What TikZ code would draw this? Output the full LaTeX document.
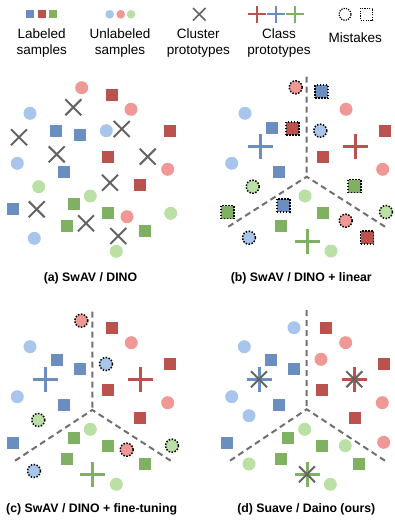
\documentclass[tikz,border=0pt]{standalone}
\usepackage{fontspec}
\setmainfont{Liberation Sans}
\definecolor{cR}{RGB}{186,82,78}
\definecolor{cB}{RGB}{106,142,192}
\definecolor{cG}{RGB}{128,176,98}
\definecolor{lR}{RGB}{240,152,150}
\definecolor{lB}{RGB}{168,198,236}
\definecolor{lG}{RGB}{186,224,166}
\definecolor{xg}{RGB}{100,100,100}
\definecolor{dg}{RGB}{112,112,112}
\tikzset{
  sq/.style={rectangle, minimum size=13pt, inner sep=0pt, fill=#1, draw=white, line width=0.5pt},
  ci/.style={circle, minimum size=13pt, inner sep=0pt, fill=#1},
  mis/.style={draw=black, line width=1.5pt, dash pattern=on 1.5pt off 1.5pt},
  ok/.style={},
  bound/.style={draw=dg, line width=2pt, dash pattern=on 6pt off 4pt},
  xmark/.pic={\draw[xg, line width=2pt] (-8,-8) -- (8,8) (-8,8) -- (8,-8);},
  plusmark/.pic={\draw[line width=3pt, pic actions] (-12.5,0) -- (12.5,0) (0,-12.5) -- (0,12.5);},
  lgx/.pic={\draw[xg, line width=1.6pt] (-6.3,-6.3) -- (6.3,6.3) (-6.3,6.3) -- (6.3,-6.3);},
  lgplus/.pic={\draw[line width=2pt, pic actions] (-9,0) -- (9,0) (0,-8.5) -- (0,8.5);},
  lgtext/.style={font=\fontsize{13.5}{16}\selectfont, align=center, anchor=base, inner sep=0pt},
  title/.style={font=\bfseries\fontsize{12.3}{14}\selectfont, anchor=base, inner sep=0pt},
}
\begin{document}
\begin{tikzpicture}[x=1pt, y=-1pt]
\useasboundingbox (0,0) rectangle (395,527);
% ---------- legend ----------
\foreach \x/\c [count=\i] in {30/cB, 41.8/cR, 53.2/cG}
  \node[sq=\c, minimum size=8pt, draw=none] (lgs\i) at (\x,14.3) {};
\foreach \x/\c [count=\i] in {109.7/lB, 120.7/lR, 131/lG}
  \node[ci=\c, minimum size=8.7pt] (lgc\i) at (\x,14.3) {};
\pic (lgX) at (199.3,14.3) {lgx};
\pic[draw=cR] (lgp1) at (257,14.3) {lgplus};
\pic[draw=cB] (lgp2) at (276,14.3) {lgplus};
\pic[draw=cG] (lgp3) at (295,14.3) {lgplus};
\node[circle, minimum size=12pt, inner sep=0pt, draw=black, line width=1.2pt, dash pattern=on 1.2pt off 1.2pt] (lgmc) at (345,14.3) {};
\node[rectangle, minimum size=12pt, inner sep=0pt, draw=black, line width=1.2pt, dash pattern=on 1.2pt off 1.2pt] (lgms) at (366.7,14.3) {};
\node[lgtext] (t1) at (41.7,54.3) {Labeled\\samples};
\node[lgtext] (t2) at (120,54.3) {Unlabeled\\samples};
\node[lgtext] (t3) at (198.3,54.3) {Cluster\\prototypes};
\node[lgtext] (t4) at (279,54.3) {Class\\prototypes};
\node[lgtext] (t5) at (355.3,42.3) {Mistakes};
% ---------- panel (a) ----------
\foreach \x/\y/\c [count=\i] in {112/94.3/cR, 169.7/130.7/cR, 107.7/156.7/cR, 140/184.7/cR,
  56/130.7/cB, 79.3/135/cB, 64/171.7/cB, 12.7/209/cB,
  73.3/204/cG, 107.7/212.7/cG, 66.3/225.7/cG, 144.3/230.7/cG}
  \node[sq=\c] (as\i) at (\x,\y) {};
\foreach \x/\y/\c [count=\i] in {81.7/87.7/lR, 131/109.3/lR, 167.7/169.3/lR, 127/216.7/lR,
  30/113.3/lB, 106.3/130.7/lB, 17.3/163.3/lB, 34.3/238.3/lB,
  38.7/186.7/lG, 90.3/196/lG, 170.7/213.3/lG, 116.3/251.3/lG}
  \node[ci=\c] (ac\i) at (\x,\y) {};
\foreach \x/\y [count=\i] in {73.3/107.3, 121.7/129, 19/137.3, 56.7/154.3, 147.7/156.7,
  110/182.7, 36.7/209.3, 86/223.3, 118.3/236}
  \pic (ax\i) at (\x,\y) {xmark};
\node[title] (ta) at (90.5,281.7) {(a) SwAV / DINO};
% ---------- panel (b) ----------
\coordinate (bO) at (306.7,176.7);
\coordinate (bU) at (306.7,76.7);
\coordinate (bL) at (228.3,226.7);
\coordinate (bR) at (385,226.7);
\draw[bound] (bU) -- (bO) (bL) -- (bO) -- (bR);
\foreach \x/\y/\c/\m [count=\i] in {321.7/91.7/cB/mis, 271.7/127.3/cB/ok, 292.7/128.3/cR/mis,
  384.3/130.7/cR/ok, 322.3/156.7/cR/ok, 279/171.7/cB/ok, 354.3/186/cG/mis, 283.3/205.3/cB/mis,
  227.3/212/cG/mis, 322.3/212.7/cG/ok, 281/225.7/cG/ok, 367/237.7/cR/mis}
  \node[sq=\c, \m] (bs\i) at (\x,\y) {};
\foreach \x/\y/\c/\m [count=\i] in {295.7/87.3/lR/mis, 346/109.3/lR/ok, 245/113.3/lB/ok,
  320.3/130.7/lB/mis, 231.7/163.3/lB/ok, 382.7/169.3/lR/ok, 252.7/186.7/lG/mis, 305/196/lG/ok,
  386/212/lG/mis, 345.7/220.7/lR/mis, 249/237.7/lB/mis, 331/251/lG/ok}
  \node[ci=\c, \m] (bc\i) at (\x,\y) {};
\pic[draw=cB] (bp1) at (260,146) {plusmark};
\pic[draw=cR] (bp2) at (355,146) {plusmark};
\pic[draw=cG] (bp3) at (307,241) {plusmark};
\node[title] (tb) at (301.3,281.7) {(b) SwAV / DINO + linear};
% ---------- panel (c) ----------
\coordinate (cO) at (92.3,410);
\coordinate (cU) at (92.3,311.7);
\coordinate (cL) at (15,460.7);
\coordinate (cR0) at (170.7,460.7);
\draw[bound] (cU) -- (cO) (cL) -- (cO) -- (cR0);
\foreach \x/\y/\c [count=\i] in {112/327.7/cR, 56.7/360/cB, 79.3/368.3/cB, 169.7/364/cR,
  107.7/390/cR, 64/405/cB, 140/417.7/cR, 73.3/437.3/cG, 12.7/442.3/cB, 107.7/445.7/cG,
  66.3/459/cG, 144.3/464/cG}
  \node[sq=\c] (cs\i) at (\x,\y) {};
\foreach \x/\y/\c/\m [count=\i] in {81.3/320.7/lR/mis, 131.3/342.7/lR/ok, 30/346.7/lB/ok,
  106/364/lB/mis, 17.3/396.7/lB/ok, 167.7/402.7/lR/ok, 38.3/420/lG/mis, 90.3/429.3/lG/ok,
  126.7/449.7/lR/mis, 172/445.7/lG/mis, 34/471/lB/mis, 116.3/484.3/lG/ok}
  \node[ci=\c, \m] (cc\i) at (\x,\y) {};
\pic[draw=cB] (cp1) at (45,379.3) {plusmark};
\pic[draw=cR] (cp2) at (140,379.3) {plusmark};
\pic[draw=cG] (cp3) at (92.7,474.3) {plusmark};
\node[title] (tc) at (91.7,512.7) {(c) SwAV / DINO + fine-tuning};
% ---------- panel (d) ----------
\coordinate (dO) at (306.7,409.3);
\coordinate (dU) at (306.7,310);
\coordinate (dL) at (230,460.7);
\coordinate (dR) at (385,460.7);
\draw[bound] (dU) -- (dO) (dL) -- (dO) -- (dR);
\foreach \x/\y/\c [count=\i] in {326/327.3/cR, 271/360/cB, 293.7/368.3/cB, 384/364/cR,
  322/390/cR, 278.3/405/cB, 354.3/417.7/cR, 287.7/437.3/cG, 227/442.3/cB, 321.7/445.7/cG,
  280.3/459/cG, 358.3/464/cG}
  \node[sq=\c] (ds\i) at (\x,\y) {};
\foreach \x/\y/\c [count=\i] in {294/327.7/lB, 244.3/346.7/lB, 345.7/342.7/lR, 321/359.3/lR,
  231.7/396.7/lB, 382.3/402.7/lR, 249/415.7/lB, 304.7/429.3/lG, 345.3/445.7/lG, 383.7/442.3/lR,
  249/464/lG, 330.3/484.3/lG}
  \node[ci=\c] (dc\i) at (\x,\y) {};
\foreach \x/\y/\c [count=\i] in {259/379.3/cB, 354.3/379.3/cR, 307/474.3/cG} {
  \pic[draw=\c] (dp\i) at (\x,\y) {plusmark};
  \pic (dx\i) at (\x,\y) {xmark};
}
\node[title] (td) at (306.3,512.7) {(d) Suave / Daino (ours)};
\end{tikzpicture}
\end{document}
